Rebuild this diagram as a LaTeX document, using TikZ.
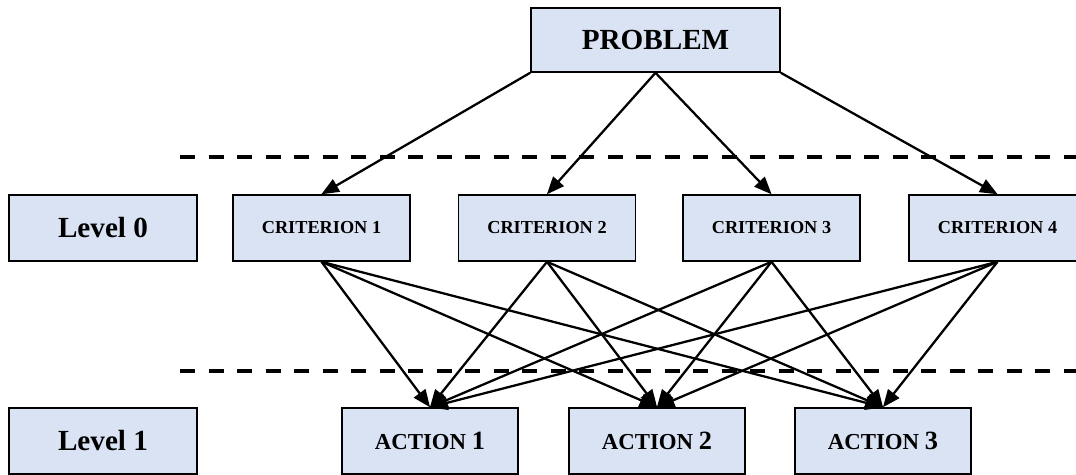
\documentclass[tikz,border=0pt]{standalone}
\usepackage{fontspec}
\setmainfont{Liberation Serif}
\usetikzlibrary{arrows}
\definecolor{boxblue}{RGB}{218,227,243}

\begin{document}
\begin{tikzpicture}[line join=miter,>=triangle 45,x=1.0cm,y=1.0cm,
  box/.style={draw=black,fill=boxblue,line width=0.9pt,minimum height=1.32cm,inner sep=0pt},
  crit/.style={box,minimum width=3.54cm,font=\fontsize{10.4}{12}\selectfont\bfseries},
  act/.style={box,minimum width=3.52cm,font=\fontsize{13}{15}\selectfont\bfseries},
  lvl/.style={box,minimum width=3.76cm,font=\fontsize{16.6}{19}\selectfont\bfseries},
  arr/.style={->,line width=1.3pt},
  sep/.style={line width=2.3pt,dash pattern=on 0.3cm off 0.27cm}]
\useasboundingbox (0,0) rectangle (21.52,9.5);
\clip (0,0) rectangle (21.52,9.5);
% separators between the levels
\draw[sep] (3.6,6.36) -- (21.52,6.36);
\draw[sep] (3.6,2.08) -- (21.52,2.08);
% boxes
\node[box,minimum width=4.98cm,minimum height=1.28cm,font=\fontsize{16.6}{19}\selectfont\bfseries] (prob) at (13.11,8.70) {PROBLEM};
\node[lvl] (lev0) at (2.06,4.94) {Level 0};
\node[lvl] (lev1) at (2.06,0.68) {Level 1};
\node[crit] (c1) at (6.43,4.94) {CRITERION 1};
\node[crit] (c2) at (10.94,4.94) {CRITERION 2};
\node[crit] (c3) at (15.43,4.94) {CRITERION 3};
\node[crit] (c4) at (19.95,4.94) {CRITERION 4};
\node[act] (a1) at (8.60,0.68) {ACTION {\fontsize{15}{17}\selectfont 1}};
\node[act] (a2) at (13.14,0.68) {ACTION {\fontsize{15}{17}\selectfont 2}};
\node[act] (a3) at (17.66,0.68) {ACTION {\fontsize{15}{17}\selectfont 3}};
% arrows
\draw[arr] (prob.south west) -- (c1.north);
\draw[arr] (prob.south) -- (c2.north);
\draw[arr] (prob.south) -- (c3.north);
\draw[arr] (prob.south east) -- (c4.north);
\foreach \i in {1,...,4}
  \foreach \j in {1,2,3}
    \draw[arr] (c\i.south) -- (a\j.north);
\end{tikzpicture}
\end{document}
